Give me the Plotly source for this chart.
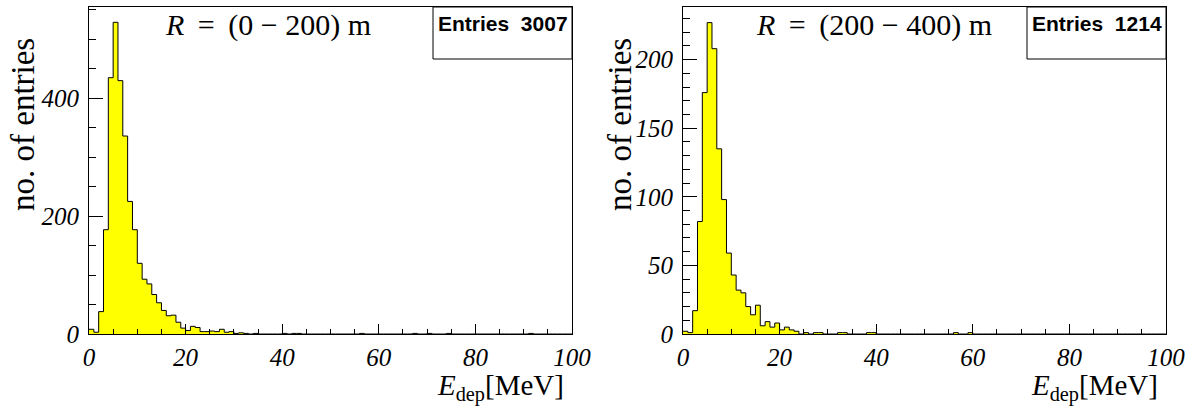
import plotly.graph_objects as go

W, H = 1201, 408

# ---------------- data (1 MeV bins, 0..100 MeV) ----------------
bin_edges = list(range(0, 101))

left_counts = [8, 3, 38, 177, 435, 529, 430, 336, 225, 177,
               120, 93, 85, 67, 53, 40, 31, 32, 20, 10,
               6, 13, 11, 4, 4, 5, 4, 8, 3, 4,
               1, 2, 1, 0, 1, 0, 0, 0, 0, 0,
               1, 0, 1, 1, 0, 0, 0, 0, 0, 0,
               0, 0, 0, 0, 0, 0, 1, 0, 0, 0,
               0, 0, 0, 0, 0, 0, 0, 1, 0, 0,
               1, 0, 0, 0, 1, 0, 0, 0, 0, 0,
               0, 0, 0, 0, 0, 0, 0, 0, 0, 0,
               0, 1, 0, 0, 0, 0, 0, 0, 0, 0]

right_counts = [2, 1, 17, 82, 176, 227, 208, 135, 98, 59,
                43, 32, 30, 20, 14, 21, 6, 9, 5, 8,
                3, 5, 3, 2, 0, 1, 0, 1, 1, 0,
                0, 0, 1, 1, 0, 0, 0, 0, 1, 1,
                0, 0, 0, 0, 0, 0, 0, 0, 0, 0,
                0, 0, 0, 0, 0, 0, 1, 0, 0, 1,
                0, 0, 0, 0, 0, 0, 0, 0, 0, 0,
                0, 0, 0, 0, 0, 0, 0, 0, 0, 0,
                0, 0, 0, 0, 0, 0, 0, 0, 0, 0,
                0, 0, 0, 0, 0, 0, 0, 0, 0, 0]

T = "\u2009"
titles = ["<i>R</i>" + T + " = " + T + "(0 \u2212 200) m",
          "<i>R</i>" + T + " = " + T + "(200 \u2212 400) m"]
entries_labels = ["Entries  3007", "Entries  1214"]
y_ranges = [555, 238.4]
y_dticks = [200, 50]
y_minor = [50, 10]
x_ticks = [0, 20, 40, 60, 80, 100]

# ---------------- layout geometry (pixels) ----------------
def px(x):
    return x / W

def py(y):
    return 1 - y / H

x_doms = [(89, 572), (683, 1166)]
y_top, y_bot = 7, 334

fig = go.Figure()

SERIF = "Liberation Serif, Times New Roman, serif"
SANS = "Liberation Sans, Arial, sans-serif"

for i, counts in enumerate([left_counts, right_counts]):
    xs = bin_edges
    ys = counts + [counts[-1]]
    fig.add_trace(go.Scatter(
        x=xs, y=ys, mode="lines", line=dict(shape="hv", color="black", width=1),
        fill="tozeroy", fillcolor="#ffff00", showlegend=False,
        xaxis="x" if i == 0 else "x2", yaxis="y" if i == 0 else "y2",
        hoverinfo="skip"))

for i in range(2):
    tf = dict(family=SERIF, size=25, color="black", style="italic")
    xa = dict(showline=True, linecolor="black", linewidth=1, mirror=True,
              showgrid=False, zeroline=False, ticks="inside",
              tickcolor="black", tickwidth=1, tickfont=tf, automargin=False,
              domain=[px(x_doms[i][0]), px(x_doms[i][1])], range=[0, 100],
              tickmode="array", tickvals=x_ticks, ticklen=10,
              minor=dict(ticks="inside", ticklen=5, dtick=5, tick0=0,
                         tickcolor="black", tickwidth=1, showgrid=False),
              anchor="y" if i == 0 else "y2", ticklabelstandoff=1)
    ya = dict(showline=True, linecolor="black", linewidth=1, mirror=True,
              showgrid=False, zeroline=False, ticks="inside",
              tickcolor="black", tickwidth=1, tickfont=tf, automargin=False,
              domain=[py(y_bot), py(y_top)], range=[0, y_ranges[i]],
              dtick=y_dticks[i], tick0=0, ticklen=14,
              minor=dict(ticks="inside", ticklen=7, dtick=y_minor[i], tick0=0,
                         tickcolor="black", tickwidth=1, showgrid=False),
              anchor="x" if i == 0 else "x2", ticklabelstandoff=4)
    fig.update_layout(**{("xaxis" if i == 0 else "xaxis2"): xa,
                         ("yaxis" if i == 0 else "yaxis2"): ya})

annotations = []
shapes = []
title_cx = [267.5, 874]
ytitle_cx = [23, 620]
for i in range(2):
    x0, x1 = x_doms[i]
    # histogram title
    annotations.append(dict(x=px(title_cx[i]), y=py(25), xref="paper", yref="paper",
                            text=titles[i], showarrow=False, xanchor="center", yanchor="middle",
                            font=dict(family=SERIF, size=30, color="black")))
    # stats box
    bx0 = x1 - 139
    shapes.append(dict(type="rect", xref="paper", yref="paper",
                       x0=px(bx0), x1=px(x1), y0=py(59), y1=py(y_top),
                       line=dict(color="black", width=1), fillcolor="white", layer="above"))
    annotations.append(dict(x=px((bx0 + x1) / 2), y=py(23), xref="paper", yref="paper",
                            text="<b>%s</b>" % entries_labels[i], showarrow=False,
                            xanchor="center", yanchor="middle",
                            font=dict(family=SANS, size=21, color="black")))
    # y-axis title
    annotations.append(dict(x=px(ytitle_cx[i]), y=py(125), xref="paper", yref="paper",
                            text="no. of entries", showarrow=False, textangle=-90,
                            xanchor="center", yanchor="middle",
                            font=dict(family=SERIF, size=33, color="black")))
    # x-axis title
    annotations.append(dict(x=px(x1 - 6), y=py(387), xref="paper", yref="paper",
                            text="<i>E</i><sub>dep</sub>[MeV]", showarrow=False,
                            xanchor="right", yanchor="middle",
                            font=dict(family=SERIF, size=29, color="black")))

fig.update_layout(width=W, height=H, margin=dict(l=0, r=0, t=0, b=0),
                  paper_bgcolor="white", plot_bgcolor="white",
                  annotations=annotations, shapes=shapes, showlegend=False)

fig.write_html("out.html")
